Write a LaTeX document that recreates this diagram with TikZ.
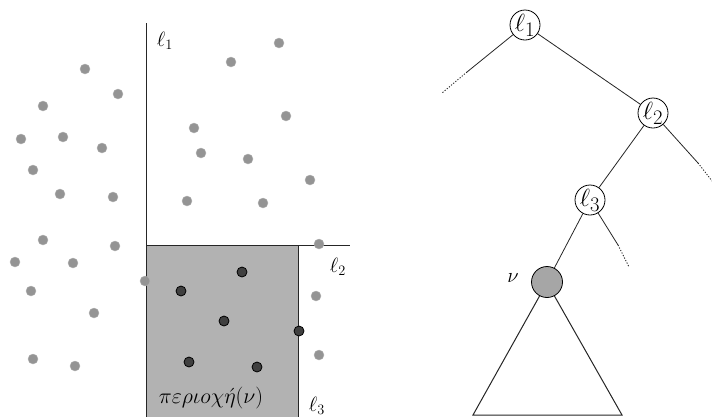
\documentclass[tikz,border=0pt]{standalone}
\usetikzlibrary{calc}
\begin{document}
\begin{tikzpicture}[x=1bp,y=-1bp,
  gpt/.style={circle,fill=black!42,draw=black!30,line width=0.4bp,inner sep=0pt,minimum size=10bp},
  dpt/.style={circle,fill=black!75,draw=black,line width=0.8bp,inner sep=0pt,minimum size=10bp},
  splitline/.style={line width=1bp,draw=black!85},
  tnode/.style={circle,draw=black,line width=0.8bp,fill=white,inner sep=0pt,minimum size=30bp,font=\Huge},
  edge/.style={line width=0.8bp,draw=black!85},
  dotedge/.style={line width=0.9bp,draw=black!85,dash pattern=on 1.2bp off 1.6bp},
  lbl/.style={font=\huge,inner sep=0pt}]
\useasboundingbox (0,0) rectangle (712,417);
% region
\fill[black!30] (146,245) rectangle (298,417);
\coordinate (l1top) at (146,23);
\coordinate (l1bot) at (146,417);
\coordinate (l2left) at (146,245);
\coordinate (l2right) at (350,245);
\coordinate (l3top) at (298,245);
\coordinate (l3bot) at (298,417);
\draw[splitline] (l1top) -- (l1bot);
\draw[splitline] (l2left) -- (l2right);
\draw[splitline,line width=0.8bp] (l3top) -- (l3bot);
\node[lbl] (lab1) at (165,41) {$\ell_1$};
\node[lbl] (lab2) at (338,267) {$\ell_2$};
\node[lbl] (lab3) at (317,406) {$\ell_3$};
\node[lbl,scale=1.06,transform shape] (reg) at (211,398) {$\pi\varepsilon\rho\iota o\chi\acute{\eta}(\nu)$};
% gray points
\foreach \px/\py [count=\i] in {85/69,118/94,43/106,21/139,63/137,102/148,33/170,60/194,113/197,43/240,115/246,15/262,73/263,31/291,94/313,33/359,75/366,145/281,279/43,231/62,286/116,194/128,201/153,248/159,310/180,187/201,263/203,319/244,316/296,319/355}
  \node[gpt] (g\i) at (\px,\py) {};
% dark points
\foreach \px/\py [count=\i] in {242/272,181/291,224/321,299/331,189/362,257/367}
  \node[dpt] (d\i) at (\px,\py) {};
% tree
\node[tnode] (t1) at (525,25) {$\ell_1$};
\node[tnode] (t2) at (653,113) {$\ell_2$};
\node[tnode] (t3) at (590,200) {$\ell_3$};
\node[circle,draw=black,line width=0.8bp,fill=black!35,inner sep=0pt,minimum size=31bp] (nu) at (547,282) {};
\node[lbl] (nulab) at (513,278) {$\nu$};
\coordinate (a1) at (467,72);
\coordinate (a1e) at (442,93);
\coordinate (a2) at (698,163);
\coordinate (a2e) at (712,181);
\coordinate (a3) at (618,245);
\coordinate (a3e) at (629,267);
\draw[edge] (t1) -- (t2);
\draw[edge] (t2) -- (t3);
\draw[edge] (t3) -- (nu);
\draw[edge] (t1) -- (a1);
\draw[dotedge] (a1) -- (a1e);
\draw[edge] (t2) -- (a2);
\draw[dotedge] (a2) -- (a2e);
\draw[edge] (t3) -- (a3);
\draw[dotedge] (a3) -- (a3e);
\coordinate (bl) at (473,415);
\coordinate (br) at (622,415);
\draw[edge,line width=1bp] (nu.-118) -- (bl) -- (br) -- (nu.-62);
\end{tikzpicture}
\end{document}
